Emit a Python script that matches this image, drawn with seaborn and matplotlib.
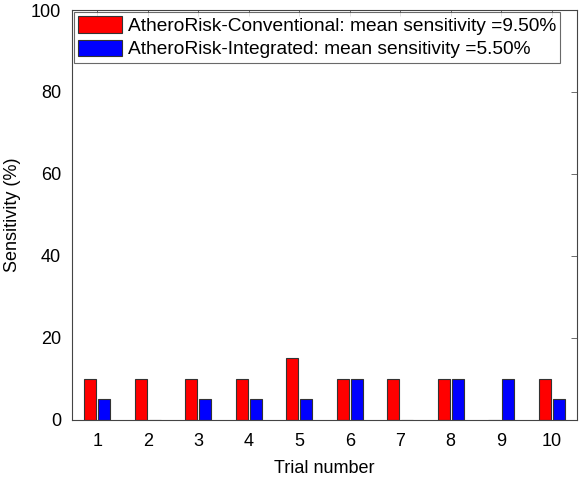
import numpy as np
import pandas as pd
import matplotlib
matplotlib.use("Agg")
import matplotlib.pyplot as plt
import seaborn as sns

trials = [1, 2, 3, 4, 5, 6, 7, 8, 9, 10]
conventional = [10, 10, 10, 10, 15, 10, 10, 10, 0, 10]
integrated = [5, 0, 5, 5, 5, 10, 0, 10, 10, 5]
series_names = ["AtheroRisk-Conventional: mean sensitivity =9.50%",
                "AtheroRisk-Integrated: mean sensitivity =5.50%"]

df = pd.DataFrame({
    "trial": trials * 2,
    "value": conventional + integrated,
    "series": [series_names[0]] * len(trials) + [series_names[1]] * len(trials),
})

sns.set_theme(style="white")
plt.rcParams["font.family"] = ["Liberation Sans", "DejaVu Sans"]
plt.rcParams["text.color"] = "black"
plt.rcParams["axes.labelcolor"] = "black"
plt.rcParams["xtick.color"] = "black"
plt.rcParams["ytick.color"] = "black"

fig = plt.figure(figsize=(5.81, 4.80), dpi=100)
ax = fig.add_axes([0.124, 0.126, 0.869, 0.853])

sns.barplot(data=df, x="trial", y="value", hue="series", order=trials,
            palette=["#ff0000", "#0000ff"], saturation=1, width=0.56, gap=0.15,
            edgecolor="#333333", linewidth=0.8, ax=ax)

ax.set_xlim(-0.5, 9.5)
ax.set_ylim(0, 100)
ax.set_yticks([0, 20, 40, 60, 80, 100])
ax.set_xticks(range(10))
ax.set_xticklabels([str(t) for t in trials])
ax.set_xlabel("Trial number", fontsize=13, labelpad=7)
ax.set_ylabel("Sensitivity (%)", fontsize=13, labelpad=7)
ax.tick_params(axis="both", direction="in", length=4, width=0.6, top=True, right=True,
               labelsize=13, colors="black")
ax.tick_params(axis="x", pad=10, color="#555555")
ax.tick_params(axis="y", pad=8, color="#555555")
for s in ax.spines.values():
    s.set_visible(True)
    s.set_color("#444444")
    s.set_linewidth(0.8)

leg = ax.legend(loc="upper left", bbox_to_anchor=(0.0, 1.0), fontsize=13.8,
                frameon=True, fancybox=False, edgecolor="#444444",
                handlelength=2.3, handleheight=0.94, borderpad=0.22,
                labelspacing=0.24, handletextpad=0.3, borderaxespad=0.1)
leg.get_frame().set_linewidth(0.8)
for t in leg.get_texts():
    t.set_color("black")

fig.savefig("out.png", dpi=100)
